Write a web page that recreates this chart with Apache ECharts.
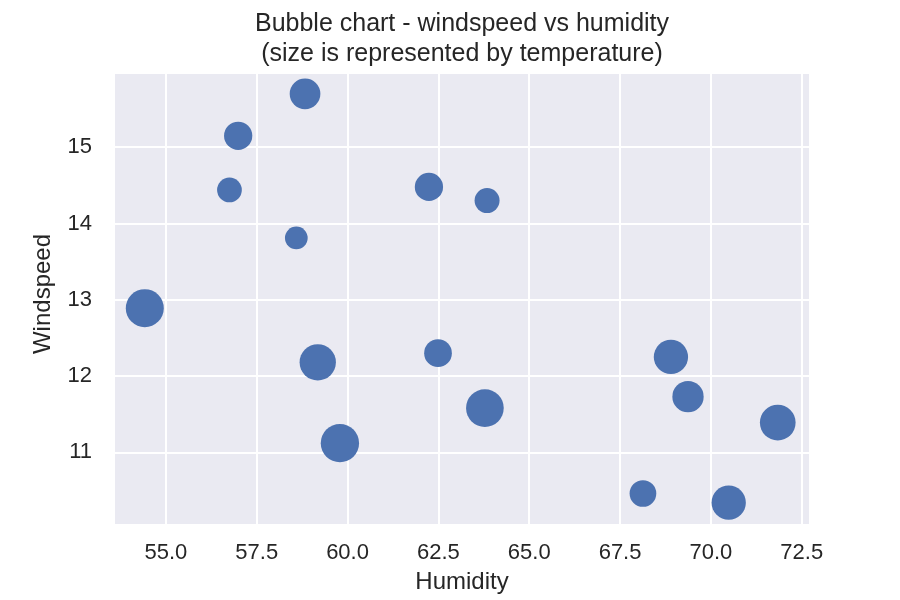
<!DOCTYPE html>
<html>
<head>
<meta charset="utf-8">
<script src="https://cdn.jsdelivr.net/npm/echarts@6/dist/echarts.min.js"></script>
<style>html,body{margin:0;padding:0;background:#fff;}#c{width:900px;height:600px;}</style>
</head>
<body>
<div id="c"></div>
<script>
const humidity = [58.83, 56.99, 56.75, 58.59, 62.24, 63.84, 54.42, 59.18, 62.49, 59.79, 63.78, 68.90, 69.37, 68.13, 70.49, 71.84];
const windspeed = [15.70, 15.15, 14.44, 13.81, 14.48, 14.30, 12.89, 12.18, 12.30, 11.12, 11.58, 12.25, 11.73, 10.46, 10.34, 11.39];
const temperature = [21.7, 18.4, 14.1, 11.9, 18.4, 14.4, 33.3, 30.4, 17.7, 33.8, 32.7, 27.1, 22.6, 16.4, 27.1, 29.4];
const xTicks = [55.0, 57.5, 60.0, 62.5, 65.0, 67.5, 70.0, 72.5];
const yTicks = [11, 12, 13, 14, 15];

const points = humidity.map((h, i) => [h, windspeed[i], temperature[i]]);
const font = 'Liberation Sans, Arial, sans-serif';
const txt = '#262626';

const chart = echarts.init(document.getElementById('c'), null, {renderer: 'canvas'});
chart.setOption({
  animation: false,
  backgroundColor: '#ffffff',
  title: {
    text: 'Bubble chart - windspeed vs humidity\n(size is represented by temperature)',
    left: 457, top: 4, textAlign: 'center',
    textStyle: {fontFamily: font, fontSize: 25, fontWeight: 'normal', color: txt, lineHeight: 30}
  },
  grid: {left: 115, right: 91, top: 74, bottom: 76, show: true, backgroundColor: '#EAEAF2', borderWidth: 0},
  xAxis: {
    type: 'value', min: 53.6, max: 72.7,
    name: 'Humidity', nameLocation: 'middle', nameGap: 46,
    nameTextStyle: {fontFamily: font, fontSize: 24, color: txt},
    axisLine: {show: false},
    axisTick: {show: false, customValues: xTicks},
    axisLabel: {customValues: xTicks, fontFamily: font, fontSize: 22, color: txt, margin: 18,
      formatter: v => Number(v).toFixed(1)},
    splitLine: {show: true, lineStyle: {color: '#ffffff', width: 2}}
  },
  yAxis: {
    type: 'value', min: 10.06, max: 15.96,
    name: 'Windspeed', nameLocation: 'middle', nameGap: 60,
    nameTextStyle: {fontFamily: font, fontSize: 24, color: txt, padding: [0, 0, 0, 10]},
    axisLine: {show: false},
    axisTick: {show: false, customValues: yTicks},
    axisLabel: {customValues: yTicks, fontFamily: font, fontSize: 22, color: txt, margin: 23,
      padding: [8, 0, 0, 0],
      formatter: v => String(Math.round(v))},
    splitLine: {show: true, lineStyle: {color: '#ffffff', width: 2}}
  },
  series: [{
    type: 'scatter',
    data: points,
    symbolSize: d => Math.sqrt(d[2] * 10) / 0.48,
    itemStyle: {color: '#4C72B0', opacity: 1}
  }]
});
</script>
</body>
</html>
